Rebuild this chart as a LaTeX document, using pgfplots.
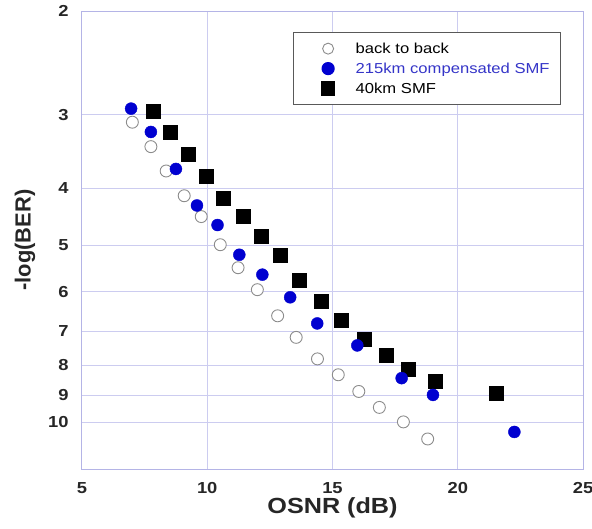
\documentclass[border=0pt]{standalone}
\usepackage{pgfplots}
\pgfplotsset{compat=1.18}
\usepackage{fontspec}
\setmainfont{Liberation Sans}[FakeStretch=1.15]
\newfontfamily\ylabfont{Liberation Sans}
\definecolor{gridc}{HTML}{CCCCF0}
\definecolor{framec}{HTML}{B4B4E6}
\definecolor{ptblue}{HTML}{0000D0}
\definecolor{legblue}{HTML}{3535C8}
\definecolor{ringc}{HTML}{8C8C8C}
\definecolor{txtc}{HTML}{262626}
\pgfplotsset{
  legimg/.style={legend image code/.code={%
    \path (-25bp,0bp) (25bp,0bp);
    \draw[##1] plot coordinates {(0bp,0bp)};}},
}
\begin{document}
\begin{tikzpicture}
\begin{axis}[
    scale only axis,
    width=501bp, height=458bp,
    xmin=5, xmax=25,
    ymode=log, y dir=reverse,
    ymin=2, ymax=12,
    xtick={5,10,15,20,25},
    xticklabels={5,10,15,20,25},
    ytick={2,3,4,5,6,7,8,9,10},
    yticklabels={2,3,4,5,6,7,8,9,10},
    minor ytick={},
    /pgf/number format/assume math mode=true,
    major tick length=0pt, minor tick length=0pt,
    grid=major,
    major grid style={draw=gridc, line width=1bp},
    axis line style={draw=framec, line width=1bp},
    tick label style={font=\fontsize{16}{19}\selectfont\bfseries, text=txtc},
    xticklabel style={yshift=-10bp},
    yticklabel style={xshift=-10bp},
    xlabel={OSNR (dB)},
    ylabel={-log(BER)},
    xlabel style={at={(axis description cs:0.5,0)}, anchor=center, yshift=-38.5bp,
      font=\fontsize{22}{26}\selectfont\bfseries, text=txtc},
    ylabel style={at={(axis description cs:0,0.5)}, anchor=center, rotate=0, yshift=57bp,
      font=\ylabfont\fontsize{22}{26}\selectfont\bfseries, text=txtc},
    legend style={
      at={(0.421,0.954)}, anchor=north west,
      draw=black!65, line width=1.2bp, fill=white,
      inner xsep=9bp, inner ysep=8bp,
      font=\fontsize{14.5}{17}\selectfont,
      row sep=4bp,
    },
    legend cell align=left,
]

\addlegendimage{only marks, mark=*, mark size=5.5bp, mark options={draw=ringc, fill=white, line width=0.9bp}, legimg}
\addlegendentry{back to back}
\addlegendimage{only marks, mark=*, mark size=6bp, mark options={draw=ptblue, fill=ptblue}, legimg}
\addlegendentry{\textcolor{legblue}{215km compensated SMF}}
\addlegendimage{only marks, mark=square*, mark size=6.5bp, mark options={draw=black, fill=black}, legimg}
\addlegendentry{40km SMF}

% back to back
\addplot[forget plot, only marks, mark=*, mark size=6bp,
  mark options={draw=ringc, fill=white, line width=0.9bp}] coordinates {
  (7.01,3.09) (7.75,3.40) (8.36,3.74) (9.08,4.12) (9.76,4.47) (10.52,4.99)
  (11.23,5.46) (12.0,5.95) (12.81,6.59) (13.55,7.17) (14.4,7.80) (15.23,8.30)
  (16.05,8.86) (16.87,9.43) (17.83,9.98) (18.8,10.67)
};

% 40km SMF
\addplot[forget plot, only marks, mark=square*, mark size=7bp,
  mark options={draw=black, fill=black}] coordinates {
  (7.84,2.96) (8.52,3.21) (9.23,3.50) (9.95,3.82) (10.65,4.16) (11.43,4.47)
  (12.16,4.83) (12.92,5.20) (13.69,5.74) (14.56,6.22) (15.36,6.71) (16.25,7.22)
  (17.13,7.70) (18.03,8.13) (19.08,8.50) (21.53,8.91)
};

% 215km compensated SMF, drawn last so it sits on top
\addplot[forget plot, only marks, mark=*, mark size=6bp,
  mark options={draw=ptblue, fill=ptblue}] coordinates {
  (6.96,2.93) (7.75,3.21) (8.75,3.71) (9.59,4.28) (10.41,4.62) (11.28,5.19)
  (12.2,5.61) (13.31,6.13) (14.39,6.79) (15.99,7.40) (17.76,8.41) (19.01,8.98)
  (22.26,10.38)
};

\end{axis}
\pgfresetboundingbox
\path[use as bounding box] (-82bp,-60bp) rectangle (510bp,469bp);
\end{tikzpicture}
\end{document}
